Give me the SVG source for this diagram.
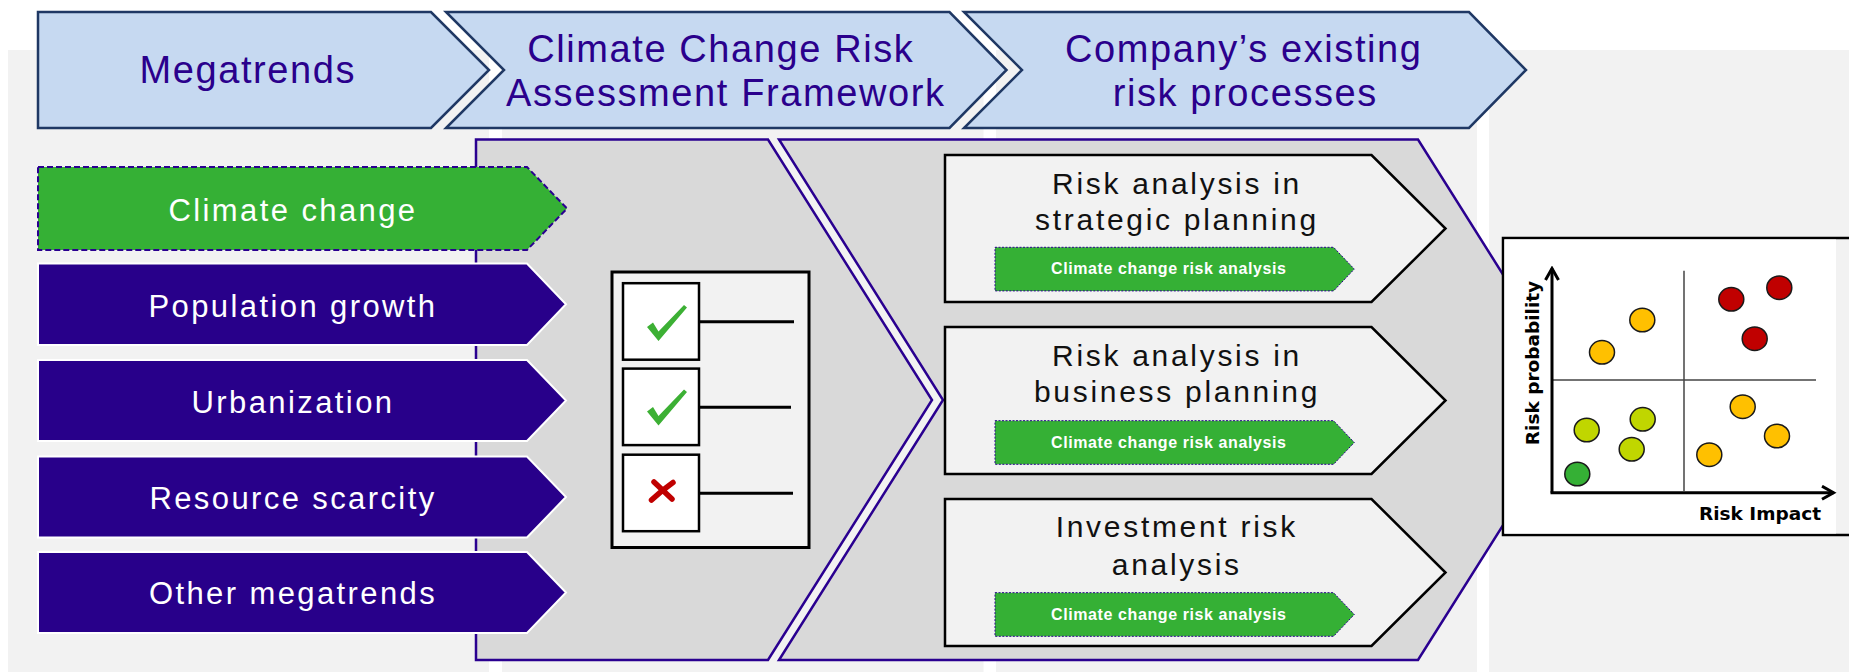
<svg xmlns="http://www.w3.org/2000/svg" width="1849" height="672" viewBox="0 0 1849 672">
<defs>
<style>
.bg{fill:#f2f2f2}
.hdr{fill:#c6d9f1;stroke:#1f3864;stroke-width:2.5}
.hdrt{font-family:"Liberation Sans",Arial,sans-serif;font-size:38px;letter-spacing:1.6px;fill:#2a008c;text-anchor:middle}
.panel{fill:#d9d9d9;stroke:#2a0090;stroke-width:2.5}
.mt{fill:#28008a;stroke:#ffffff;stroke-width:2}
.mtg{fill:#35b035;stroke:#2a0090;stroke-width:2;stroke-dasharray:6 3}
.mtt{font-family:"Liberation Sans",Arial,sans-serif;font-size:31px;letter-spacing:2.4px;fill:#ffffff;text-anchor:middle}
.proc{fill:#f2f2f2;stroke:#000000;stroke-width:2.5}
.proct{font-family:"Liberation Sans",Arial,sans-serif;font-size:30px;letter-spacing:2.7px;fill:#111111;text-anchor:middle}
.gbar{fill:#35b035;stroke:#2a0090;stroke-width:1;stroke-dasharray:2 1.5}
.gbart{font-family:"Liberation Sans",Arial,sans-serif;font-weight:bold;font-size:16px;letter-spacing:0.6px;fill:#ffffff;text-anchor:middle}
.cbox{fill:#ffffff;stroke:#000000;stroke-width:2.5}
.cline{stroke:#000000;stroke-width:3}
.axis{stroke:#000000;stroke-width:3;fill:none}
.quad{stroke:#444444;stroke-width:1.5}
.dot{stroke:#1a1a1a;stroke-width:1.5}
.o{fill:#ffc000}.r{fill:#c00000}.y{fill:#c0d600}.g{fill:#35b035}
.mtx{font-family:"DejaVu Sans",Verdana,sans-serif;font-weight:bold;font-size:18.5px;fill:#000000}
</style>
<marker id="arr" markerUnits="userSpaceOnUse" markerWidth="16" markerHeight="16" refX="13" refY="8" orient="auto">
<path d="M1.5,1.5 L13,8 L1.5,14.5" fill="none" stroke="#000" stroke-width="3"/>
</marker>
</defs>

<g id="background">
<rect class="bg" x="8" y="50" width="481" height="622"/>
<rect class="bg" x="502" y="50" width="481.5" height="622"/>
<rect class="bg" x="996" y="50" width="481" height="622"/>
<rect class="bg" x="1489" y="50" width="360" height="622"/>
</g>

<g id="hdr-megatrends">
<path class="hdr" d="M38,12 L431,12 L489,70 L431,128 L38,128 Z"/>
<text class="hdrt" x="247.8" y="83">Megatrends</text>
</g>
<g id="hdr-framework">
<path class="hdr" d="M446,12 L949.5,12 L1006.5,70 L949.5,128 L446,128 L504,70 Z"/>
<text class="hdrt" x="720.8" y="61.5">Climate Change Risk</text>
<text class="hdrt" x="725.8" y="106">Assessment Framework</text>
</g>
<g id="hdr-company">
<path class="hdr" d="M964,12 L1469,12 L1526,70 L1469,128 L964,128 L1022,70 Z"/>
<text class="hdrt" x="1243.8" y="61.5">Company’s existing</text>
<text class="hdrt" x="1245.3" y="106">risk processes</text>
</g>

<g id="panel-framework">
<path class="panel" d="M476,139.5 L768,139.5 L932,400 L768,660 L476,660 Z"/>
</g>
<g id="panel-processes">
<path class="panel" d="M779,139.5 L1418,139.5 L1582,400 L1418,660 L779,660 L943,400 Z"/>
</g>

<g id="mt-climate">
<path class="mtg" d="M38,167 L527,167 L567,208.5 L527,250 L38,250 Z"/>
<text class="mtt" x="293" y="220.7">Climate change</text>
</g>
<g id="mt-population">
<path class="mt" d="M38,263.5 L527,263.5 L566,304.3 L527,345 L38,345 Z"/>
<text class="mtt" x="293" y="316.7">Population growth</text>
</g>
<g id="mt-urbanization">
<path class="mt" d="M38,360 L527,360 L566,400.5 L527,441 L38,441 Z"/>
<text class="mtt" x="293" y="413.3">Urbanization</text>
</g>
<g id="mt-resource">
<path class="mt" d="M38,456.5 L527,456.5 L566,497 L527,537.5 L38,537.5 Z"/>
<text class="mtt" x="293" y="509">Resource scarcity</text>
</g>
<g id="mt-other">
<path class="mt" d="M38,552 L527,552 L566,592.5 L527,633 L38,633 Z"/>
<text class="mtt" x="293" y="604.3">Other megatrends</text>
</g>

<g id="checklist">
<rect x="612" y="272" width="197" height="275.5" fill="#f2f2f2" stroke="#000" stroke-width="3"/>
<rect class="cbox" x="623" y="283.2" width="76" height="76.5"/>
<rect class="cbox" x="623" y="368.6" width="76" height="76.5"/>
<rect class="cbox" x="623" y="454.7" width="76" height="76.5"/>
<line class="cline" x1="699" y1="321.8" x2="794" y2="321.8"/>
<line class="cline" x1="699" y1="407.2" x2="791" y2="407.2"/>
<line class="cline" x1="700" y1="493.3" x2="793" y2="493.3"/>
<path d="M647,327 L653,322.5 L658.5,331.5 L684,305 L687,307.5 L658.5,341 Z" fill="#3cb034"/>
<path d="M647,327 L653,322.5 L658.5,331.5 L684,305 L687,307.5 L658.5,341 Z" fill="#3cb034" transform="translate(0,84.5)"/>
<path d="M654,482 L672,499 M673,482.5 Q661,491 651.5,500" stroke="#c00000" stroke-width="5.5" stroke-linecap="round" fill="none"/>
</g>

<g id="proc-strategic">
<path class="proc" d="M945,155 L1371.5,155 L1445.5,228.5 L1371.5,302 L945,302 Z"/>
<text class="proct" x="1177" y="194">Risk analysis in</text>
<text class="proct" x="1177" y="230">strategic planning</text>
<path class="gbar" d="M995,247.3 L1333.6,247.3 L1354.3,269.1 L1333.6,290.9 L995,290.9 Z"/>
<text class="gbart" x="1168.8" y="274">Climate change risk analysis</text>
</g>
<g id="proc-business">
<path class="proc" d="M945,327 L1371.5,327 L1445.5,400.5 L1371.5,474 L945,474 Z"/>
<text class="proct" x="1177" y="366">Risk analysis in</text>
<text class="proct" x="1177" y="402">business planning</text>
<path class="gbar" d="M995,420.7 L1333.6,420.7 L1354.3,442.5 L1333.6,464.3 L995,464.3 Z"/>
<text class="gbart" x="1168.8" y="448">Climate change risk analysis</text>
</g>
<g id="proc-investment">
<path class="proc" d="M945,499 L1371.5,499 L1445.5,572.5 L1371.5,646 L945,646 Z"/>
<text class="proct" x="1176.8" y="536.7">Investment risk</text>
<text class="proct" x="1176.8" y="575">analysis</text>
<path class="gbar" d="M995,592.7 L1333.6,592.7 L1354.3,614.5 L1333.6,636.3 L995,636.3 Z"/>
<text class="gbart" x="1168.8" y="619.5">Climate change risk analysis</text>
</g>

<g id="risk-matrix">
<rect x="1503" y="238" width="360" height="297" fill="#f2f2f2" stroke="#000" stroke-width="2.5"/>
<rect x="1504.5" y="239.5" width="331.5" height="294" fill="#ffffff"/>
<line class="quad" x1="1684" y1="270.7" x2="1684" y2="491"/>
<line class="quad" x1="1553" y1="380" x2="1816" y2="380"/>
<ellipse class="dot o" cx="1642.3" cy="320" rx="12.5" ry="11.8"/>
<ellipse class="dot o" cx="1602" cy="352.3" rx="12.5" ry="11.8"/>
<ellipse class="dot r" cx="1731.3" cy="299.3" rx="12.5" ry="11.8"/>
<ellipse class="dot r" cx="1779.3" cy="287.7" rx="12.5" ry="11.8"/>
<ellipse class="dot r" cx="1754.7" cy="338.7" rx="12.5" ry="11.8"/>
<ellipse class="dot y" cx="1586.7" cy="430" rx="12.5" ry="11.8"/>
<ellipse class="dot y" cx="1642.7" cy="419.3" rx="12.5" ry="11.8"/>
<ellipse class="dot y" cx="1631.7" cy="449.3" rx="12.5" ry="11.8"/>
<ellipse class="dot g" cx="1577.3" cy="474" rx="12.5" ry="11.8"/>
<ellipse class="dot o" cx="1742.7" cy="406.7" rx="12.5" ry="11.8"/>
<ellipse class="dot o" cx="1777" cy="436" rx="12.5" ry="11.8"/>
<ellipse class="dot o" cx="1709.3" cy="454.7" rx="12.5" ry="11.8"/>
<text class="mtx" x="1699" y="520">Risk Impact</text>
<text class="mtx" text-anchor="middle" transform="translate(1539,363) rotate(-90)">Risk probability</text>
</g>

<g id="connectors">
<path class="axis" d="M1552,492.7 L1552,268.5" marker-end="url(#arr)"/>
<path class="axis" d="M1550.5,492.7 L1833.5,492.7" marker-end="url(#arr)"/>
</g>
</svg>
